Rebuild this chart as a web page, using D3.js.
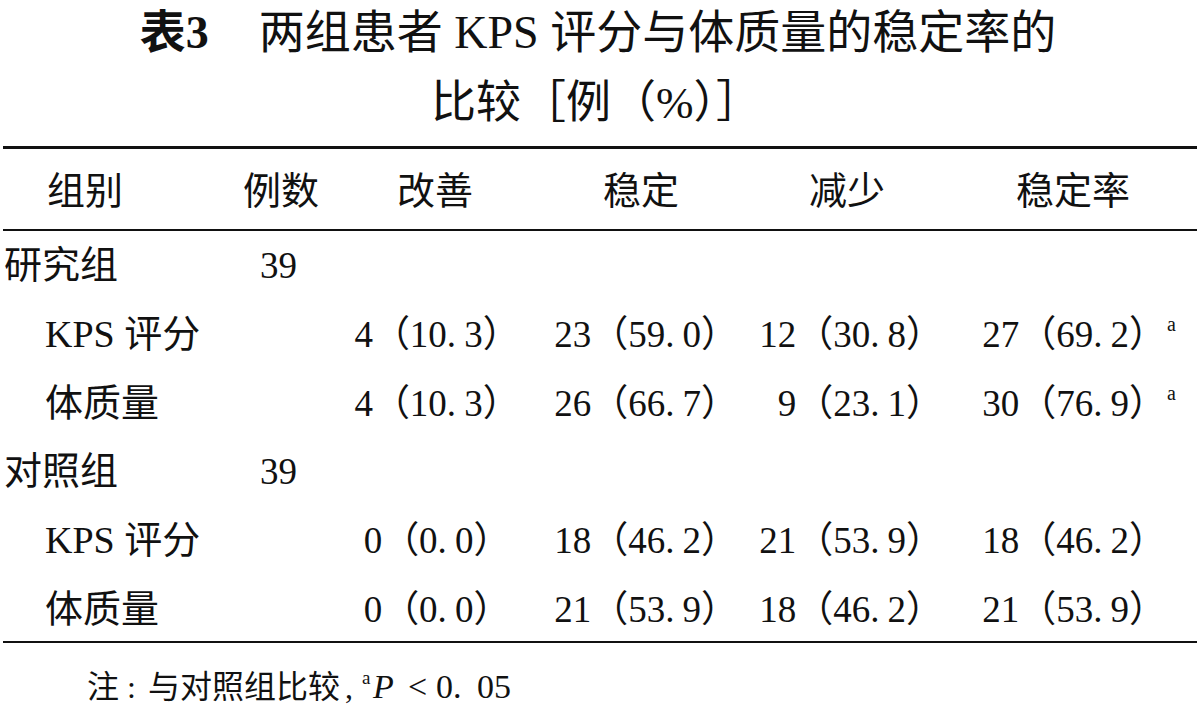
<!DOCTYPE html>
<html>
<head>
<meta charset="utf-8">
<script src="https://cdn.jsdelivr.net/npm/d3@7"></script>
<style>
  body { margin: 0; background: #fff; }
  svg text { fill: #111; }
</style>
</head>
<body>
<div id="chart"></div>
<script>
const width = 1200;
const height = 712;

// Table data
const columns = ["组别", "例数", "改善", "稳定", "减少", "稳定率"];
const groups = ["研究组", "对照组"];
const groupN = [39, 39];
const items = ["KPS 评分", "体质量"];
// one entry per (group, item): 研究组 KPS, 研究组 体质量, 对照组 KPS, 对照组 体质量
const improved = [4, 4, 0, 0];
const improvedPct = [10.3, 10.3, 0.0, 0.0];
const stable = [23, 26, 18, 21];
const stablePct = [59.0, 66.7, 46.2, 53.9];
const reduced = [12, 9, 21, 18];
const reducedPct = [30.8, 23.1, 53.9, 46.2];
const stableRate = [27, 30, 18, 21];
const stableRatePct = [69.2, 76.9, 46.2, 53.9];
const significant = [true, true, false, false];

const font = "'Liberation Serif', 'Noto Sans CJK SC', serif";

// flatten into table rows
const rows = [];
groups.forEach((g, gi) => {
  rows.push({ label: g, indent: false, n: groupN[gi] });
  items.forEach((it, ii) => {
    const k = gi * items.length + ii;
    rows.push({
      label: it, indent: true,
      vals: [[improved[k], improvedPct[k]], [stable[k], stablePct[k]],
             [reduced[k], reducedPct[k]], [stableRate[k], stableRatePct[k]]],
      sig: significant[k]
    });
  });
});

const y = d3.scalePoint().domain(d3.range(rows.length)).range([278, 622]);

// column anchors
const colX = d3.scaleOrdinal().domain(columns).range([85, 281, 435, 641, 847, 1073]);
const valueCols = [
  { x: 437, anchor: "middle" },
  { x: 738, anchor: "end" },
  { x: 943, anchor: "end" },
  { x: 1166, anchor: "end" }
];

const svg = d3.select("#chart").append("svg")
  .attr("width", width)
  .attr("height", height)
  .style("font-family", font);

// title
const t1 = svg.append("text")
  .attr("x", 598).attr("y", 48)
  .attr("text-anchor", "middle")
  .style("font-size", "46px");
t1.append("tspan").style("font-weight", "bold").text("表3");
t1.append("tspan").attr("dx", 50).text("两组患者 KPS 评分与体质量的稳定率的");

svg.append("text")
  .attr("x", 596).attr("y", 118)
  .attr("text-anchor", "middle")
  .style("font-size", "45px")
  .text("比较［例（%）］");

// rules
const rules = [{ y: 147.5, w: 3 }, { y: 230, w: 2 }, { y: 642, w: 2 }];
svg.selectAll("line.rule")
  .data(rules)
  .join("line")
  .attr("class", "rule")
  .attr("x1", 3).attr("x2", 1197)
  .attr("y1", d => d.y).attr("y2", d => d.y)
  .attr("stroke", "#111")
  .attr("stroke-width", d => d.w);

// header
svg.selectAll("text.head")
  .data(columns)
  .join("text")
  .attr("class", "head")
  .attr("x", d => colX(d))
  .attr("y", 204)
  .attr("text-anchor", "middle")
  .style("font-size", "38px")
  .text(d => d);

// body rows
const row = svg.selectAll("g.row")
  .data(rows)
  .join("g")
  .attr("class", "row")
  .attr("transform", (d, i) => `translate(0,${y(i)})`)
  .style("font-size", "37px");

row.append("text")
  .attr("x", d => d.indent ? 45 : 4)
  .style("font-size", "38px")
  .text(d => d.label);

row.filter(d => d.n != null)
  .append("text")
  .attr("x", 260)
  .text(d => d.n);

const val = row.filter(d => d.vals)
  .selectAll("text.val")
  .data(d => d.vals.map((v, j) => ({ n: v[0], p: v[1], j })))
  .join("text")
  .attr("class", "val")
  .attr("x", d => valueCols[d.j].x)
  .attr("text-anchor", d => valueCols[d.j].anchor);
val.append("tspan").text(d => `${d.n}（${Math.floor(d.p)}.`);
val.append("tspan").attr("dx", 8).text(d => `${Math.round(d.p * 10) % 10}）`);

// significance mark
row.filter(d => d.sig)
  .append("text")
  .attr("x", 1167).attr("y", -16)
  .style("font-size", "20px")
  .text("a");

// footnote
const fn = svg.append("text")
  .attr("y", 698)
  .style("font-size", "32px");
fn.append("tspan").attr("x", 87).text("注");
fn.append("tspan").attr("x", 127).text(":");
fn.append("tspan").attr("x", 148).text("与对照组比较");
fn.append("tspan").attr("x", 345).text(",");
fn.append("tspan").attr("x", 362).attr("dy", -14).style("font-size", "19px").text("a");
fn.append("tspan").attr("x", 373).attr("dy", 14).style("font-size", "34px").style("font-style", "italic").text("P");
fn.append("tspan").attr("x", 408).style("font-size", "34px").text("<");
fn.append("tspan").attr("x", 436).style("font-size", "34px").text("0.");
fn.append("tspan").attr("x", 477).style("font-size", "34px").text("05");
</script>
</body>
</html>
